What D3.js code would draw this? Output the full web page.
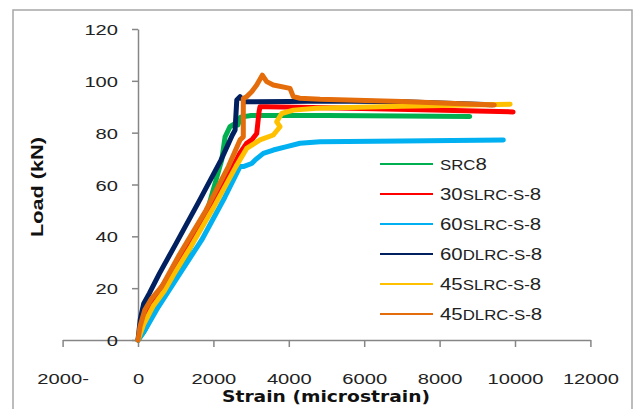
<!DOCTYPE html>
<html>
<head>
<meta charset="utf-8">
<script src="https://cdn.jsdelivr.net/npm/d3@7"></script>
<style>
  body { margin: 0; background: #fff; }
  svg { display: block; }
  .axis path, .axis line { stroke: #868686; stroke-width: 1.5; }
  .axis text { font-family: "Liberation Sans", Arial, sans-serif; font-size: 15.5px; fill: #222; }
</style>
</head>
<body>
<div id="chart"></div>
<script>
// series names and colours, in drawing order
const seriesNames = ["SRC8", "30SLRC-S-8", "60SLRC-S-8", "60DLRC-S-8", "45SLRC-S-8", "45DLRC-S-8"];
const seriesColors = ["#00B050", "#FF0000", "#00B0F0", "#002060", "#FFC000", "#E46C0A"];

// [strain, load]
const src8 = [[0,0],[150,3],[400,10],[700,17],[1200,30],[1800,48],[2220,69.4],[2310,78.4],[2440,82.3],[2580,83.6],[2650,83],[2720,86],[3000,86.6],[5000,86.6],[7000,86.4],[8800,86.2]];
const slrc30 = [[0,0],[120,6],[350,14],[600,20],[1000,28],[2000,52],[2700,72],[2880,75.9],[3016,77.2],[3149,79.7],[3210,88],[3236,90],[3400,90],[5000,89.6],[7500,88.8],[9950,88]];
const slrc60 = [[0,0],[186,3.9],[540,12.8],[1114,25.7],[1690,38.6],[2300,55],[2705,66.9],[2793,66.9],[3016,68.1],[3104,69.4],[3324,72],[3589,73.3],[3944,74.6],[4297,75.9],[4828,76.5],[7000,76.8],[9690,77.2]];
const dlrc60 = [[0,0],[60,8],[150,14],[300,18],[570,25.7],[1000,37],[1600,53],[2200,69.4],[2500,79],[2575,81],[2620,92.6],[2706,93.9],[2840,91.9],[4000,92],[5000,92.2],[7000,91.9],[9400,90.8]];
const slrc45 = [[0,0],[150,6],[400,13],[700,19],[936,25],[1400,36],[2000,51],[2600,67],[2883,73.9],[3236,77.2],[3589,79.1],[3767,82.3],[3679,84.2],[3811,87.4],[4119,88.7],[4739,89.4],[7000,90.2],[9870,91]];
const dlrc45 = [[0,0],[50,5],[180,11.6],[360,16],[630,20.6],[1100,33],[1800,50],[2400,67],[2706,77.2],[2793,78.4],[2793,93.2],[2883,93.9],[3016,95.8],[3149,98.4],[3297,102.2],[3414,99.7],[3589,98.4],[4032,97.1],[4119,93.9],[4297,93.3],[4828,92.9],[7000,92],[9450,90.7]];
const seriesData = [src8, slrc30, slrc60, dlrc60, slrc45, dlrc45];

const xTicks = [-2000, 0, 2000, 4000, 6000, 8000, 10000, 12000];
const yTicks = [0, 20, 40, 60, 80, 100, 120];

const width = 638, height = 409;
const svg = d3.select("#chart").append("svg")
  .attr("width", width)
  .attr("height", height);

// outer chart frame
svg.append("rect")
  .attr("x", 13).attr("y", 10)
  .attr("width", 619).attr("height", 420)
  .attr("fill", "#fff")
  .attr("stroke", "#a6a6a6")
  .attr("stroke-width", 1.5);

const x = d3.scaleLinear().domain([-2000, 12000]).range([62.6, 590.4]);
const y = d3.scaleLinear().domain([0, 120]).range([340, 29]);

// stretch text horizontally like the original
function stretch(sel, sx) {
  sel.each(function() {
    const t = d3.select(this);
    const tx = +t.attr("x") || 0;
    t.attr("x", 0).attr("transform", `translate(${tx},0) scale(${sx},1)`);
  });
}

const xAxis = svg.append("g")
  .attr("class", "axis")
  .attr("transform", `translate(0,${y(0)})`)
  .call(d3.axisBottom(x).tickValues(xTicks).tickSize(7).tickSizeOuter(0)
    .tickFormat(d => d < 0 ? Math.abs(d) + "-" : d));
xAxis.selectAll(".tick text")
  .attr("dy", "0")
  .attr("y", 44)
  .attr("x", 0)
  .attr("transform", "scale(1.3,1)");

const yAxis = svg.append("g")
  .attr("class", "axis")
  .attr("transform", `translate(${x(0)},0)`)
  .call(d3.axisLeft(y).tickValues(yTicks).tickSize(6).tickSizeOuter(0).tickPadding(14));
yAxis.selectAll("text").attr("dy", "0.36em");
stretch(yAxis.selectAll("text"), 1.3);

// data lines
const line = d3.line().x(d => x(d[0])).y(d => y(d[1]));
svg.append("g").selectAll("path")
  .data(seriesData)
  .join("path")
  .attr("d", line)
  .attr("fill", "none")
  .attr("stroke", (d, i) => seriesColors[i])
  .attr("stroke-width", 5)
  .attr("stroke-linejoin", "round")
  .attr("stroke-linecap", "round");

// legend
const legend = svg.append("g").attr("transform", "translate(380,164)");
const item = legend.selectAll("g")
  .data(seriesNames)
  .join("g")
  .attr("transform", (d, i) => `translate(0,${i * 30})`);
item.append("line")
  .attr("x1", 0).attr("x2", 53)
  .attr("stroke", (d, i) => seriesColors[i])
  .attr("stroke-width", 2);
item.append("text")
  .attr("transform", "translate(60,6) scale(1.2,1)")
  .attr("font-family", "Liberation Sans, Arial, sans-serif")
  .attr("fill", "#222")
  .each(function(name) {
    const t = d3.select(this);
    name.match(/[0-9]+|[^0-9]+/g).forEach(part => {
      t.append("tspan")
        .attr("font-size", /[0-9]/.test(part) ? 17 : 14)
        .text(part);
    });
  });

// axis titles
svg.append("text")
  .attr("x", 326).attr("y", 402)
  .attr("text-anchor", "middle")
  .attr("font-family", "DejaVu Sans, sans-serif")
  .attr("font-weight", "bold")
  .attr("font-size", 15)
  .attr("textLength", 208)
  .attr("lengthAdjust", "spacingAndGlyphs")
  .attr("fill", "#111")
  .text("Strain (microstrain)");

svg.append("text")
  .attr("transform", "translate(43,187) rotate(-90)")
  .attr("text-anchor", "middle")
  .attr("font-family", "Liberation Sans, Arial, sans-serif")
  .attr("font-weight", "bold")
  .attr("font-size", 17)
  .attr("textLength", 100)
  .attr("lengthAdjust", "spacingAndGlyphs")
  .attr("fill", "#111")
  .text("Load (kN)");
</script>
</body>
</html>
